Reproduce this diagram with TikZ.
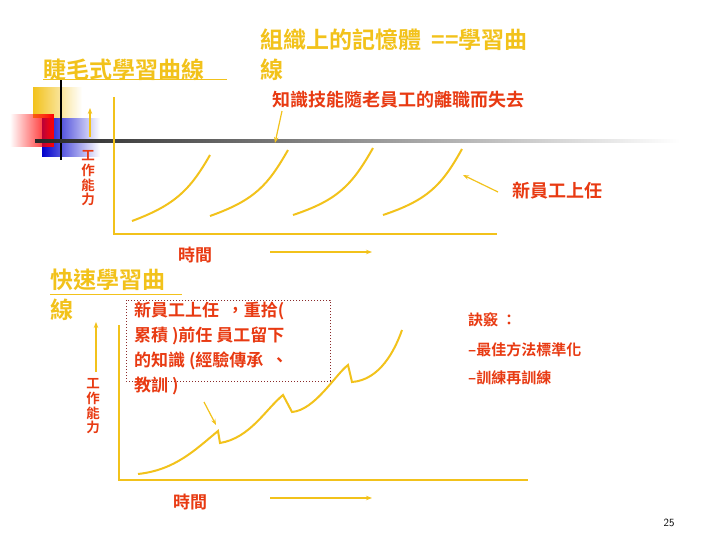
\documentclass[tikz,border=0pt]{standalone}
\usepackage{fontspec}
\setmainfont{Noto Sans CJK TC}[BoldFont={* Bold}]
\usetikzlibrary{arrows.meta,fadings}
\definecolor{ylw}{HTML}{F2C21B}
\definecolor{rd}{HTML}{E83A12}
\definecolor{dred}{HTML}{8B2A2A}
\tikzset{
 ttl/.style={text=ylw,font=\bfseries\fontsize{23}{26}\selectfont,anchor=west,inner sep=0},
 rtxt/.style={text=rd,font=\bfseries\fontsize{18}{20}\selectfont,anchor=west,inner sep=0},
 stxt/.style={text=rd,font=\bfseries\fontsize{15}{16}\selectfont,anchor=west,inner sep=0},
 ax/.style={ylw,line width=1.3pt},
 crv/.style={ylw,line width=2pt},
 arr/.style={ylw,line width=1.2pt,-{Stealth[length=6pt]}},
 vch/.style={text=rd,font=\bfseries\fontsize{13.5}{13.5}\selectfont,inner sep=0}
}
\begin{document}
\begin{tikzpicture}[x=1pt,y=-1pt]
\useasboundingbox (0,0) rectangle (720,540);
% decoration
\fill[ylw,path fading=east] (33,87) rectangle (82,118);
\fill[blue!80!black,path fading=east] (42,118) rectangle (100,157);
\fill[red,path fading=west] (10,114) rectangle (54,147);
\draw[black,line width=1.5pt] (61,79) -- (61,160);
\shade[left color=black!85,right color=white] (35,140) rectangle (680,142.5);
% titles
\node[ttl] (t1) at (43,70) {睫毛式學習曲線};
\draw[ylw,line width=1pt] (43,80) -- (227,80);
\node[ttl] (t2) at (260,40) {組織上的記憶體\ \ ==學習曲};
\node[ttl] (t2b) at (260,70) {線};
\node[rtxt] (k) at (272,100) {知識技能隨老員工的離職而失去};
\coordinate (kt) at (275,143);
\draw[arr] (282,111) -- (kt);
% top chart
\coordinate (o1) at (114,234);
\draw[ax] (114,97) -- (o1) -- (497,234);
\draw[arr] (90,137) -- (90,108);
\node[vch] (v1a) at (88,156) {工};
\node[vch] (v1b) at (88,170.5) {作};
\node[vch] (v1c) at (88,185) {能};
\node[vch] (v1d) at (88,199.5) {力};
\draw[crv] (132,221) .. controls (175,205) and (190,190) .. (210,155);
\draw[crv] (210,216) .. controls (255,200) and (268,185) .. (288,150);
\draw[crv] (293,215) .. controls (338,200) and (352,185) .. (373,148);
\draw[crv] (383,215) .. controls (428,200) and (442,185) .. (462,149);
\node[rtxt] (n1) at (512,191) {新員工上任};
\coordinate (n1t) at (463,175);
\draw[arr] (498,192) -- (n1t);
\node[text=rd,font=\bfseries\fontsize{17}{17}\selectfont] (tm1) at (195,255) {時間};
\coordinate (a1s) at (270,252); \coordinate (a1e) at (372,252);
\draw[arr] (a1s) -- (a1e);
% bottom
\node[ttl] (t3) at (50,280) {快速學習曲};
\draw[ylw,line width=1pt] (50,294) -- (182,294);
\node[ttl] (t3b) at (50,310) {線};
\draw[dred,dotted,line width=1pt] (126,300) rectangle (330,381);
\node[text=rd,font=\bfseries\fontsize{17}{25}\selectfont,align=left,anchor=north west,inner sep=0] (box) at (134,302)
 {新員工上任\ \ ，重拾(\\累積 )前任 員工留下\\的知識 (經驗傳承\ \ 、\\教訓 )};
\coordinate (bt) at (216,425);
\draw[arr] (204,402) -- (bt);
\draw[arr] (96,372) -- (96,322);
\node[vch] (v2a) at (93,384) {工};
\node[vch] (v2b) at (93,398.5) {作};
\node[vch] (v2c) at (93,413) {能};
\node[vch] (v2d) at (93,427.5) {力};
\coordinate (o2) at (119,480);
\draw[ax] (119,325) -- (o2) -- (528,480);
\draw[crv] (138,474) .. controls (175,470) and (195,450) .. (218,431)
 -- (220,443) .. controls (250,438) and (265,410) .. (283,395)
 -- (292,412) .. controls (315,410) and (335,375) .. (348,365)
 -- (352,382) .. controls (380,380) and (395,350) .. (402,330);
\node[text=rd,font=\bfseries\fontsize{17}{17}\selectfont] (tm2) at (190,502) {時間};
\coordinate (a2s) at (270,498); \coordinate (a2e) at (372,498);
\draw[arr] (a2s) -- (a2e);
\node[stxt] (tip1) at (468,320) {訣竅\ ：};
\node[stxt] (tip2) at (468,350) {–最佳方法標準化};
\node[stxt] (tip3) at (468,378) {–訓練再訓練};
\node[font=\fontsize{11}{12}\selectfont\sffamily,anchor=center] (pg) at (669,523) {25};
\end{tikzpicture}
\end{document}
